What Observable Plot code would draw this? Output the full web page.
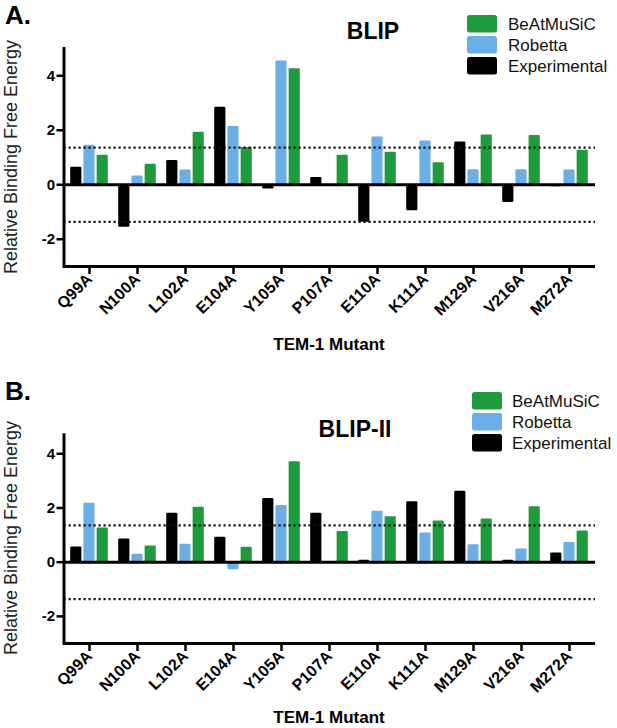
<!DOCTYPE html>
<html>
<head>
<meta charset="utf-8">
<script src="https://cdn.jsdelivr.net/npm/d3@7"></script>
<script src="https://cdn.jsdelivr.net/npm/@observablehq/plot@0.6"></script>
<style>
  html, body { margin: 0; padding: 0; background: #fff; }
  #root { position: relative; width: 617px; height: 728px; overflow: hidden; font-family: "Liberation Sans", Arial, Helvetica, sans-serif; }
  .panel { position: absolute; left: 0; overflow: visible; }
</style>
</head>
<body>
<div id="root"></div>
<script>
// ---- data ----
const mutants = ["Q99A","N100A","L102A","E104A","Y105A","P107A","E110A","K111A","M129A","V216A","M272A"];
const seriesNames = ["Experimental","Robetta","BeAtMuSiC"];
const seriesColors = ["#000000","#6aaee8","#1f9a3d"];
const legendOrder = ["BeAtMuSiC","Robetta","Experimental"];
const yTicks = [-2, 0, 2, 4];
const threshold = 1.36;

const blipExperimental = [0.64,-1.56,0.89,2.84,-0.16,0.27,-1.38,-0.95,1.57,-0.65,-0.07];
const blipRobetta      = [1.45,0.32,0.54,2.14,4.54,0,1.75,1.61,0.55,0.55,0.54];
const blipBeAtMuSiC    = [1.08,0.75,1.93,1.37,4.26,1.08,1.19,0.81,1.83,1.81,1.27];

const blip2Experimental = [0.56,0.86,1.81,0.92,2.35,1.81,0.07,2.23,2.62,0.07,0.34];
const blip2Robetta      = [2.17,0.29,0.66,-0.28,2.09,0,1.88,1.08,0.64,0.49,0.73];
const blip2BeAtMuSiC    = [1.26,0.60,2.03,0.55,3.71,1.13,1.68,1.52,1.59,2.05,1.15];

function table(exp, rob, bea) {
  const rows = [];
  mutants.forEach((m, i) => {
    rows.push({mutant: m, series: "Experimental", value: exp[i]});
    rows.push({mutant: m, series: "Robetta", value: rob[i]});
    rows.push({mutant: m, series: "BeAtMuSiC", value: bea[i]});
  });
  return rows;
}

const FONT = '"Liberation Sans", Arial, Helvetica, sans-serif';

function panel(opts) {
  const {rows, height, marginTop, marginBottom, yDomain, letter, letterY, title, titleX, titleY, legX, legY, legTextX, yTitleY, xTitleY} = opts;
  const bw = (617 - 63.5 - 22) / mutants.length; // band width
  const barW = 11.5, step = 13.2;
  const insets = {
    Experimental: [bw/2 - step - barW/2, bw/2 + step - barW/2],
    Robetta: [bw/2 - barW/2, bw/2 - barW/2],
    BeAtMuSiC: [bw/2 + step - barW/2, bw/2 - step - barW/2]
  };
  const color = d3.scaleOrdinal(seriesNames, seriesColors);
  const marks = seriesNames.map(s => Plot.barY(rows.filter(r => r.series === s), {
    x: "mutant", y: "value", fill: color(s),
    insetLeft: insets[s][0], insetRight: insets[s][1], rx: 1.2
  }));
  const svg = Plot.plot({
    width: 617, height,
    marginLeft: 63.5, marginRight: 22, marginTop, marginBottom,
    style: {fontFamily: FONT, background: "transparent"},
    x: {type: "band", domain: mutants, padding: 0, axis: null},
    y: {domain: yDomain, axis: null},
    marks: [
      ...marks,
      Plot.ruleY([threshold, -threshold], {stroke: "#111", strokeWidth: 2.2, strokeDasharray: "2.2,2.8"}),
      Plot.ruleY([0], {stroke: "#000", strokeWidth: 3}),
      Plot.ruleY([yDomain[0]], {stroke: "#000", strokeWidth: 3}),
      Plot.frame({anchor: "left", stroke: "#000", strokeWidth: 3}),
      Plot.axisY(yTicks, {anchor: "left", tickSize: 7, tickPadding: 2, strokeWidth: 2.5, fontSize: 15, fontWeight: "bold", fill: "#000", tickFormat: d => String(d), label: null}),
      Plot.axisX({anchor: "bottom", tickSize: 8, strokeWidth: 2.5, tickRotate: -45, tickPadding: 2, fontSize: 16, fontWeight: "bold", fill: "#000", label: null})
    ]
  });
  const s = d3.select(svg);
  s.append("text").attr("x", 5).attr("y", letterY).attr("text-anchor", "start").attr("font-size", 26).attr("font-weight", "bold").attr("font-family", FONT).text(letter);
  s.append("text").attr("x", titleX).attr("y", titleY).attr("text-anchor", "middle").attr("font-size", 23).attr("font-weight", "bold").attr("font-family", FONT).text(title);
  legendOrder.forEach((name, i) => {
    s.append("rect").attr("x", legX).attr("y", legY + i * 21).attr("width", 30).attr("height", 17.5).attr("rx", 2.5).attr("fill", color(name));
    s.append("text").attr("x", legTextX).attr("y", legY + i * 21 + 14.5).attr("text-anchor", "start").attr("font-size", 17).attr("font-family", FONT).attr("fill", "#111").text(name);
  });
  s.append("text").attr("transform", `translate(17,${yTitleY}) rotate(-90)`).attr("text-anchor", "middle").attr("font-size", 18).attr("font-family", FONT).attr("fill", "#222").text("Relative Binding Free Energy");
  s.append("text").attr("x", 329).attr("y", xTitleY).attr("text-anchor", "middle").attr("font-size", 17).attr("font-weight", "bold").attr("font-family", FONT).text("TEM-1 Mutant");
  return svg;
}

const root = document.getElementById("root");
const a = panel({
  rows: table(blipExperimental, blipRobetta, blipBeAtMuSiC),
  height: 378, marginTop: 48, marginBottom: 112, yDomain: [-3, 5],
  letter: "A.", letterY: 24, title: "BLIP", titleX: 373, titleY: 39,
  legX: 467, legY: 15, legTextX: 508, yTitleY: 157, xTitleY: 350
});
a.classList.add("panel"); a.style.top = "0px";
root.appendChild(a);

const b = panel({
  rows: table(blip2Experimental, blip2Robetta, blip2BeAtMuSiC),
  height: 350, marginTop: 56.3, marginBottom: 85, yDomain: [-3, 4.7],
  letter: "B.", letterY: 22, title: "BLIP-II", titleX: 355, titleY: 59,
  legX: 472, legY: 14, legTextX: 512, yTitleY: 160, xTitleY: 345
});
b.classList.add("panel"); b.style.top = "378px";
root.appendChild(b);
</script>
</body>
</html>
